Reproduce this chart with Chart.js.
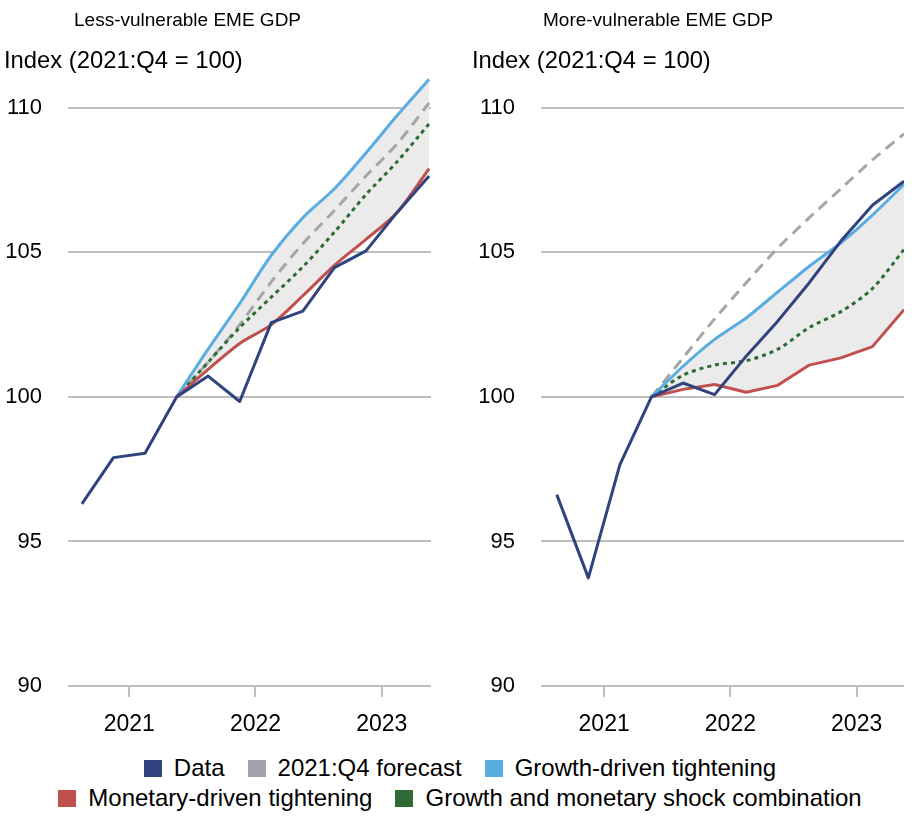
<!DOCTYPE html>
<html>
<head>
<meta charset="utf-8">
<script src="https://cdn.jsdelivr.net/npm/chart.js@4.4.1/dist/chart.umd.min.js"></script>
<style>
  body { margin: 0; background: #fff; font-family: "Liberation Sans", Arial, sans-serif; color: #000; }
  #wrap { position: relative; width: 920px; height: 819px; overflow: hidden; }
  canvas { position: absolute; top: 0; }
  .title { position: absolute; top: 8px; font-size: 19px; line-height: 24px; white-space: nowrap; }
  .sub { position: absolute; top: 46px; font-size: 23.8px; line-height: 28px; white-space: nowrap; }
  #legend { position: absolute; left: 0; top: 753px; width: 920px; font-size: 24px; line-height: 30px; }
  .row { display: flex; justify-content: center; gap: 23px; }
  .item { display: flex; align-items: center; white-space: nowrap; }
  .sw { width: 18px; height: 17px; margin-right: 12px; }
</style>
</head>
<body>
<div id="wrap">
  <canvas id="lessChart" width="447" height="750" style="left:0"></canvas>
  <canvas id="moreChart" width="447" height="750" style="left:473px"></canvas>
  <div class="title" style="left:74px">Less-vulnerable EME GDP</div>
  <div class="sub" style="left:4px">Index (2021:Q4 = 100)</div>
  <div class="title" style="left:543px">More-vulnerable EME GDP</div>
  <div class="sub" style="left:472px">Index (2021:Q4 = 100)</div>
  <div id="legend"></div>
</div>
<script>
const quarters = ["2021:Q1", "2021:Q2", "2021:Q3", "2021:Q4", "2022:Q1", "2022:Q2", "2022:Q3", "2022:Q4", "2023:Q1", "2023:Q2", "2023:Q3", "2023:Q4"];
const years = ["2021", "2022", "2023"];
const yTicks = [90, 95, 100, 105, 110];

const lessData = [96.3, 97.9, 98.05, 100, 100.72, 99.84, 102.57, 102.97, 104.47, 105.05, 106.4, 107.64];
const lessForecast = [null, null, null, 100, 101.2, 102.5, 103.98, 105.3, 106.45, 107.64, 108.77, 110.17];
const lessGrowth = [null, null, null, 100, 101.65, 103.23, 104.9, 106.2, 107.2, 108.44, 109.75, 110.99];
const lessMonetary = [null, null, null, 100, 100.95, 101.85, 102.5, 103.5, 104.55, 105.45, 106.4, 107.9];
const lessCombo = [null, null, null, 100, 101.2, 102.4, 103.45, 104.5, 105.7, 107.0, 108.15, 109.45];

const moreData = [96.62, 93.74, 97.66, 100, 100.48, 100.08, 101.41, 102.62, 103.95, 105.39, 106.63, 107.46];
const moreForecast = [null, null, null, 100, 101.35, 102.7, 103.95, 105.15, 106.2, 107.2, 108.2, 109.1];
const moreGrowth = [null, null, null, 100, 101.06, 101.99, 102.73, 103.63, 104.52, 105.33, 106.29, 107.35];
const moreMonetary = [null, null, null, 100, 100.26, 100.43, 100.16, 100.4, 101.1, 101.35, 101.74, 103.02];
const moreCombo = [null, null, null, 100, 100.75, 101.1, 101.25, 101.65, 102.4, 102.95, 103.75, 105.1];

const seriesNames = ["Data", "2021:Q4 forecast", "Growth-driven tightening", "Monetary-driven tightening", "Growth and monetary shock combination"];
const colors = { data: "#30437f", forecast: "#a3a4ab", growth: "#5aade0", monetary: "#c0504d", combo: "#2e6b34" };

const pts = (arr) => arr.map((v, i) => ({ x: i, y: v })).filter((p) => p.y !== null);
const yearTick = (i) => quarters.indexOf(years[i] + ":Q1") + 1.5;

// little tick marks under the 90 line at each year
const yearTickMarks = {
  id: "yearTickMarks",
  afterDraw(chart) {
    const { ctx, chartArea } = chart;
    const x = chart.scales.x;
    ctx.save();
    ctx.strokeStyle = "#bfbfbf";
    ctx.lineWidth = 2;
    x.ticks.forEach((t) => {
      const px = Math.round(x.getPixelForValue(t.value));
      ctx.beginPath();
      ctx.moveTo(px, chartArea.bottom);
      ctx.lineTo(px, chartArea.bottom + 11);
      ctx.stroke();
    });
    ctx.restore();
  },
};

function makeChart(id, s, xMin, xMax, tens) {
  const font = { family: "'Liberation Sans', Arial, sans-serif", size: 22 };
  return new Chart(document.getElementById(id), {
    type: "line",
    data: {
      datasets: [
        { label: seriesNames[0], data: pts(s.data), borderColor: colors.data, borderWidth: 3, tension: tens.data, fill: false },
        { label: seriesNames[3], data: pts(s.monetary), borderColor: colors.monetary, borderWidth: 3, tension: tens.monetary, fill: false },
        { label: seriesNames[2], data: pts(s.growth), borderColor: colors.growth, borderWidth: 3, tension: tens.growth, fill: { target: 1 }, backgroundColor: "#ebebeb" },
        { label: seriesNames[4], data: pts(s.combo), borderColor: colors.combo, borderWidth: 3, borderDash: [4, 4], tension: tens.combo, fill: false },
        { label: seriesNames[1], data: pts(s.forecast), borderColor: "#a6a6a6", borderWidth: 3, borderDash: [11, 7], tension: tens.forecast, fill: false },
      ],
    },
    options: {
      responsive: false,
      animation: false,
      layout: { padding: { top: 50, right: 16, left: 0, bottom: 0 } },
      elements: { point: { radius: 0 }, line: { borderCapStyle: "butt", borderJoinStyle: "round" } },
      plugins: { legend: { display: false }, tooltip: { enabled: false }, filler: { drawTime: "beforeDatasetsDraw" } },
      scales: {
        x: {
          type: "linear",
          min: xMin,
          max: xMax,
          afterBuildTicks: (sc) => { sc.ticks = years.map((y, i) => ({ value: yearTick(i) })); },
          afterFit: (sc) => { sc.height = 64; },
          grid: { display: false, drawTicks: false },
          border: { display: false },
          ticks: { callback: (v, i) => years[i], font: { ...font, size: 23 }, color: "#000", padding: 25, maxRotation: 0, autoSkip: false },
        },
        y: {
          min: 90,
          max: 112,
          afterBuildTicks: (sc) => { sc.ticks = yTicks.map((v) => ({ value: v })); },
          afterFit: (sc) => { sc.width = 68; },
          grid: { color: "#bfbfbf", lineWidth: 2, drawTicks: false },
          border: { display: false },
          ticks: { font, color: "#000", padding: 26 },
        },
      },
    },
    plugins: [yearTickMarks],
  });
}

makeChart("lessChart",
  { data: lessData, forecast: lessForecast, growth: lessGrowth, monetary: lessMonetary, combo: lessCombo },
  -0.44, 11.06,
  { data: 0, forecast: 0.3, growth: 0.3, monetary: 0.3, combo: 0.3 });

makeChart("moreChart",
  { data: moreData, forecast: moreForecast, growth: moreGrowth, monetary: moreMonetary, combo: moreCombo },
  -0.5, 11,
  { data: 0, forecast: 0.2, growth: 0.2, monetary: 0, combo: 0.3 });

const legendRows = [[0, 1, 2], [3, 4]];
const swatch = [colors.data, colors.forecast, colors.growth, colors.monetary, colors.combo];
document.getElementById("legend").innerHTML = legendRows
  .map((row) => `<div class="row">${row.map((k) => `<div class="item"><span class="sw" style="background:${swatch[k]}"></span>${seriesNames[k]}</div>`).join("")}</div>`)
  .join("");
</script>
</body>
</html>
